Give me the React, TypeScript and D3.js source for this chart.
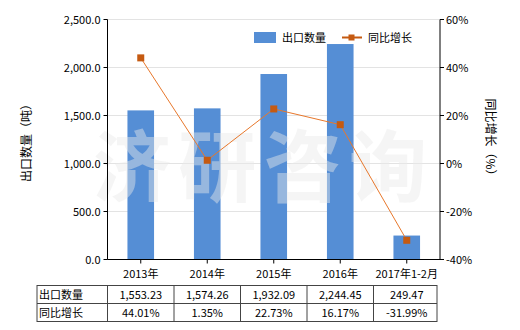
import React from "react";
import * as d3 from "d3";

const categories = ["2013年", "2014年", "2015年", "2016年", "2017年1-2月"];
const exportQty = [1553.23, 1574.26, 1932.09, 2244.45, 249.47];
const yoyGrowth = [44.01, 1.35, 22.73, 16.17, -31.99];
const exportLabels = ["1,553.23", "1,574.26", "1,932.09", "2,244.45", "249.47"];
const growthLabels = ["44.01%", "1.35%", "22.73%", "16.17%", "-31.99%"];
const leftTicks = [0, 500, 1000, 1500, 2000, 2500];
const rightTicks = [-40, -20, 0, 20, 40, 60];

const W = 520;
const H = 330;
const L = 107.5;
const R = 440;
const T = 19.5;
const B = 259.5;
const FONT = "'Noto Sans CJK SC', 'DejaVu Sans', sans-serif";
const BAR = "#558ed5";
const LINE = "#e8782c";
const MARK = "#c55a11";

export default function App() {
  const x = d3.scaleBand<string>().domain(categories).range([L, R]).paddingInner(0.6).paddingOuter(0.3);
  const yL = d3.scaleLinear().domain([0, 2500]).range([B, T]);
  const yR = d3.scaleLinear().domain([-40, 60]).range([B, T]);
  const step = x.step();
  const cx = (c: string) => (x(c) as number) + x.bandwidth() / 2;
  const fmt = d3.format(",.1f");
  const line = d3
    .line<number>()
    .x((_, i) => cx(categories[i]))
    .y((d) => yR(d));

  const tTop = 285.5;
  const rowH = 18;
  const tLeft = 37;
  const tRight = 437;
  const colEdges = categories.map((c) => cx(c) - step / 2);

  return (
    <svg width={W} height={H} style={{ position: "absolute", left: 0, top: 0 }} fontFamily={FONT}>
      <rect x={0} y={0} width={W} height={H} fill="#fff" />
      {/* gridlines */}
      {leftTicks.map((t) => (
        <line key={"g" + t} x1={L} x2={R} y1={yL(t)} y2={yL(t)} stroke="#e3e3e3" strokeWidth={1} />
      ))}
      {/* bars */}
      {categories.map((c, i) => (
        <rect key={c} x={x(c)} y={yL(exportQty[i])} width={x.bandwidth()} height={B - yL(exportQty[i])} fill={BAR} />
      ))}
      {/* watermark */}
      <text
        x={93}
        y={196}
        fontSize={78}
        fontWeight="bold"
        fill="#e8e8e8"
        fillOpacity={0.45}
        textLength={334}
        lengthAdjust="spacing"
        fontFamily={FONT}
      >
        济研咨询
      </text>
      {/* line */}
      <path d={line(yoyGrowth) as string} fill="none" stroke={LINE} strokeWidth={1} />
      {yoyGrowth.map((v, i) => (
        <rect key={"m" + i} x={cx(categories[i]) - 3.5} y={yR(v) - 3.5} width={7} height={7} fill={MARK} />
      ))}
      {/* left axis */}
      <line x1={L} x2={L} y1={T} y2={B} stroke="#000" />
      {leftTicks.map((t) => (
        <g key={"l" + t}>
          <line x1={L - 4} x2={L} y1={yL(t)} y2={yL(t)} stroke="#000" />
          <text x={L - 7} y={yL(t) + 4} fontSize={11} textAnchor="end" fill="#000">
            {fmt(t)}
          </text>
        </g>
      ))}
      {/* right axis */}
      <line x1={R} x2={R} y1={T} y2={B} stroke="#000" />
      {rightTicks.map((t) => (
        <g key={"r" + t}>
          <line x1={R} x2={R + 4} y1={yR(t)} y2={yR(t)} stroke="#000" />
          <text x={R + 6} y={yR(t) + 4} fontSize={11} textAnchor="start" fill="#000">
            {t + "%"}
          </text>
        </g>
      ))}
      {/* x axis */}
      <line x1={L} x2={R} y1={B} y2={B} stroke="#000" />
      {categories.map((c) => (
        <g key={"x" + c}>
          <line x1={cx(c)} x2={cx(c)} y1={B} y2={B + 4} stroke="#000" />
          <text x={cx(c)} y={278} fontSize={11} textAnchor="middle" fill="#000">
            {c}
          </text>
        </g>
      ))}
      {/* axis titles */}
      <text transform={`translate(31,140) rotate(-90)`} fontSize={12} textAnchor="middle" fill="#000">
        出口数量（吨）
      </text>
      <text transform={`translate(486,140) rotate(90)`} fontSize={12} textAnchor="middle" fill="#000">
        同比增长（%）
      </text>
      {/* legend */}
      <rect x={254} y={32} width={22} height={11} fill={BAR} />
      <text x={282} y={42} fontSize={11} fill="#000">
        出口数量
      </text>
      <line x1={342} x2={362} y1={37.5} y2={37.5} stroke={MARK} strokeWidth={2} />
      <rect x={348.5} y={34.5} width={6} height={6} fill={MARK} />
      <text x={368} y={42} fontSize={11} fill="#000">
        同比增长
      </text>
      {/* table */}
      <g stroke="#444" strokeWidth={1} fill="none">
        <rect x={tLeft} y={tTop} width={tRight - tLeft} height={rowH * 2} />
        <line x1={tLeft} x2={tRight} y1={tTop + rowH} y2={tTop + rowH} />
        {colEdges.map((e, i) => (
          <line key={"c" + i} x1={e} x2={e} y1={tTop} y2={tTop + rowH * 2} />
        ))}
      </g>
      <text x={tLeft + 2} y={tTop + 13} fontSize={11} fill="#000">
        出口数量
      </text>
      <text x={tLeft + 2} y={tTop + rowH + 13} fontSize={11} fill="#000">
        同比增长
      </text>
      {categories.map((c, i) => (
        <g key={"t" + c}>
          <text x={cx(c)} y={tTop + 13.5} fontSize={11} textAnchor="middle" fill="#000">
            {exportLabels[i]}
          </text>
          <text x={cx(c)} y={tTop + rowH + 13.5} fontSize={11} textAnchor="middle" fill="#000">
            {growthLabels[i]}
          </text>
        </g>
      ))}
    </svg>
  );
}
